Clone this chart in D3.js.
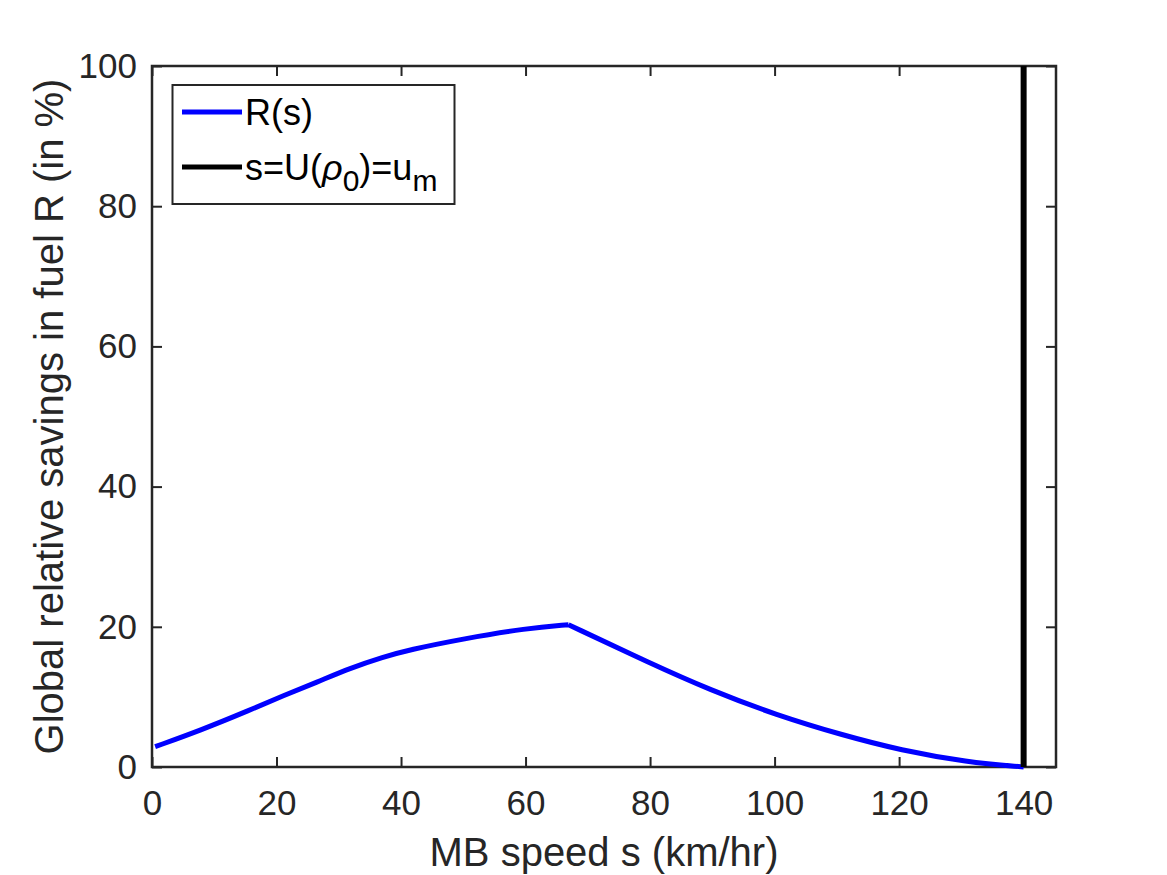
<!DOCTYPE html>
<html lang="en">
<head>
	<meta charset="UTF-8">
	<title>Global relative savings</title>
	<style>
		body { margin: 0; background: #fff; }
		text { font-family: "Liberation Sans", Arial, Helvetica, sans-serif; fill: #262626; }
	</style>
</head>
<body>
	<script src="https://cdn.jsdelivr.net/npm/d3@7"></script>
	<script>
		// data
		var speed   = [0.5, 7.7, 15.7, 21.1, 26.5, 31.8, 37.2, 41.2, 50, 60.2, 66.9, 80, 89.6, 100.3, 111.1, 120.2, 130.9, 140];
		var savings = [2.9, 5.2, 8.1, 10.2, 12.1, 14.1, 15.7, 16.7, 18.3, 19.8, 20.3, 14.8, 11.0, 7.4, 4.5, 2.4, 0.7, 0];
		var umax = 140;   // s = U(rho0) = u_m
		var xTicks = [0, 20, 40, 60, 80, 100, 120, 140];
		var yTicks = [0, 20, 40, 60, 80, 100];

		var width = 1167, height = 875;
		var pLeft = 152, pRight = 1056, pTop = 66, pBottom = 767;

		var svg = d3.select("body").append("svg")
			.attr("width", width)
			.attr("height", height);

		var x = d3.scaleLinear().domain([0, 145.2]).range([pLeft, pRight]);
		var y = d3.scaleLinear().domain([0, 100]).range([pBottom, pTop]);

		// axes, ticks inside on all four sides
		var axisColor = "#262626";
		function styleAxis(g) {
			g.select(".domain").remove();
			g.selectAll("line").attr("stroke", axisColor).attr("stroke-width", 2);
			g.selectAll("text").attr("font-size", 35).style("fill", axisColor)
				.attr("font-family", "Liberation Sans, Arial, sans-serif");
		}
		svg.append("g").attr("transform", "translate(0," + pBottom + ")")
			.call(d3.axisBottom(x).tickValues(xTicks).tickSizeInner(-10).tickSizeOuter(0).tickPadding(23))
			.call(styleAxis);
		svg.append("g").attr("transform", "translate(0," + pTop + ")")
			.call(d3.axisTop(x).tickValues(xTicks).tickSizeInner(-10).tickSizeOuter(0).tickFormat(""))
			.call(styleAxis);
		svg.append("g").attr("transform", "translate(" + pLeft + ",0)")
			.call(d3.axisLeft(y).tickValues(yTicks).tickSizeInner(-10).tickSizeOuter(0).tickPadding(15))
			.call(styleAxis);
		svg.append("g").attr("transform", "translate(" + pRight + ",0)")
			.call(d3.axisRight(y).tickValues(yTicks).tickSizeInner(-10).tickSizeOuter(0).tickFormat(""))
			.call(styleAxis);

		svg.append("rect")
			.attr("x", pLeft).attr("y", pTop)
			.attr("width", pRight - pLeft).attr("height", pBottom - pTop)
			.attr("fill", "none").attr("stroke", axisColor).attr("stroke-width", 2.5);

		// curve: rising part and falling part meet in a kink at the peak
		var pts = speed.map(function(d, i) { return [d, savings[i]]; });
		var peak = d3.maxIndex(savings);
		var line = d3.line()
			.x(function(d) { return x(d[0]); })
			.y(function(d) { return y(d[1]); })
			.curve(d3.curveBasis);
		svg.append("path")
			.attr("d", line(pts.slice(0, peak + 1)) + line(pts.slice(peak)))
			.attr("fill", "none").attr("stroke", "#0000ff")
			.attr("stroke-width", 5).attr("stroke-linejoin", "round");

		// vertical line at u_m
		svg.append("line")
			.attr("x1", x(umax)).attr("x2", x(umax))
			.attr("y1", y(0)).attr("y2", y(100))
			.attr("stroke", "#000").attr("stroke-width", 6);

		// axis labels
		svg.append("text")
			.attr("x", (pLeft + pRight) / 2).attr("y", 866)
			.attr("text-anchor", "middle").attr("font-size", 40)
			.text("MB speed s (km/hr)");
		svg.append("text")
			.attr("transform", "translate(63," + (pTop + pBottom) / 2 + ") rotate(-90)")
			.attr("text-anchor", "middle").attr("font-size", 40)
			.text("Global relative savings in fuel R (in %)");

		// legend
		var lg = svg.append("g");
		lg.append("rect")
			.attr("x", 172.5).attr("y", 85).attr("width", 282).attr("height", 119)
			.attr("fill", "#fff").attr("stroke", axisColor).attr("stroke-width", 2);
		lg.append("line").attr("x1", 182).attr("x2", 242).attr("y1", 112).attr("y2", 112)
			.attr("stroke", "#0000ff").attr("stroke-width", 5);
		lg.append("line").attr("x1", 182).attr("x2", 242).attr("y1", 167).attr("y2", 167)
			.attr("stroke", "#000").attr("stroke-width", 5);
		lg.append("text").attr("x", 245).attr("y", 125).attr("font-size", 36)
			.style("fill", "#000").text("R(s)");
		var t2 = lg.append("text").attr("x", 245).attr("y", 180).attr("font-size", 36)
			.style("fill", "#000");
		t2.append("tspan").text("s=U(");
		t2.append("tspan").attr("font-style", "italic").text("ρ");
		t2.append("tspan").attr("dy", 11).attr("font-size", 30).text("0");
		t2.append("tspan").attr("dy", -11).text(")=u");
		t2.append("tspan").attr("dy", 11).attr("font-size", 30).text("m");
	</script>
</body>
</html>
